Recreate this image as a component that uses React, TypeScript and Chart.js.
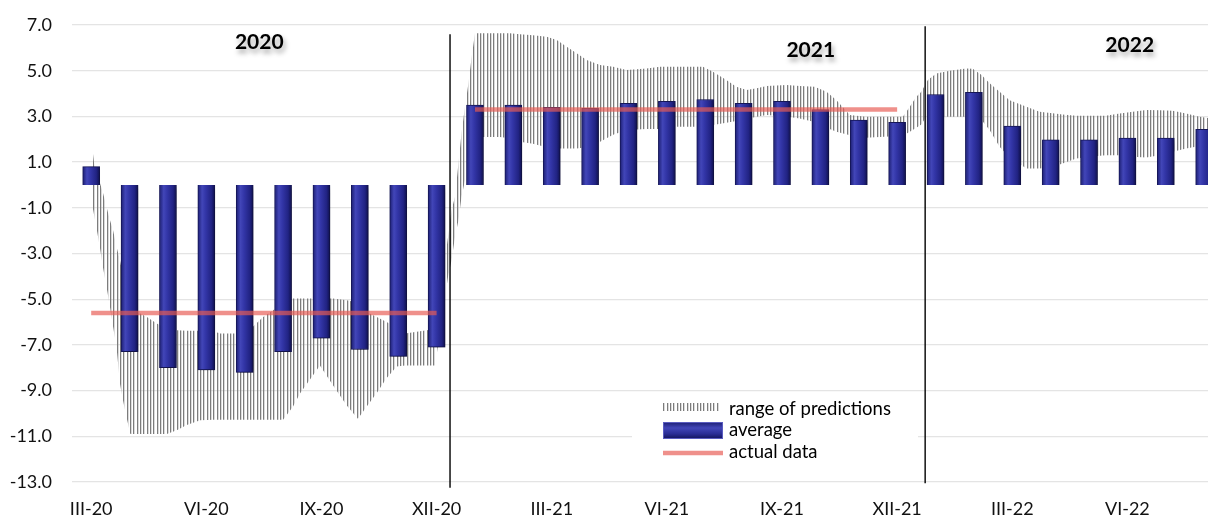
import React, { useEffect, useRef } from 'react';
import { Chart, registerables } from 'chart.js';

Chart.register(...registerables);

// Months from III-20 to VIII-22 (one bar per month)
const monthLabels = [
  'III-20', 'IV-20', 'V-20', 'VI-20', 'VII-20', 'VIII-20', 'IX-20', 'X-20', 'XI-20', 'XII-20',
  'I-21', 'II-21', 'III-21', 'IV-21', 'V-21', 'VI-21', 'VII-21', 'VIII-21', 'IX-21', 'X-21', 'XI-21', 'XII-21',
  'I-22', 'II-22', 'III-22', 'IV-22', 'V-22', 'VI-22', 'VII-22', 'VIII-22',
];

// Average of predictions, per month
const averageValues = [
  0.8, -7.3, -8.0, -8.1, -8.2, -7.3, -6.7, -7.2, -7.5, -7.1,
  3.5, 3.5, 3.4, 3.35, 3.57, 3.66, 3.74, 3.57, 3.66, 3.3, 2.84, 2.74,
  3.96, 4.05, 2.58, 1.97, 1.97, 2.05, 2.05, 2.43,
];

// Range of predictions: position on the month axis, upper and lower bound
const rangeX = [
  0.03, 0.14, 0.23, 0.31, 0.4, 0.49, 0.57, 0.66, 0.75, 0.83, 0.92, 1.02,
  1.45, 1.71, 1.97, 2.23, 2.49, 2.84, 3.18, 3.36, 3.88, 4.22, 4.48, 4.74, 5.0,
  5.26, 5.44, 5.78, 5.96, 6.3, 6.66, 6.95, 7.18, 7.44, 7.7, 7.96, 8.18, 8.57, 8.96,
  9.3, 9.39, 9.48, 9.57, 9.65, 9.74, 9.83, 9.91, 10.0,
  10.65, 10.91, 11.17, 11.51, 11.87, 12.13, 12.39, 12.65, 12.91, 13.26, 13.6, 13.95,
  14.47, 14.82, 15.16, 15.94, 16.2, 16.55, 16.81, 17.08, 17.34, 17.6, 18.12, 18.46,
  18.85, 19.16, 19.42, 19.77, 20.18, 21.15, 21.33, 21.5, 21.63, 21.8,
  22.02, 22.37, 22.8, 22.97, 23.2, 23.41, 23.67, 23.93, 24.37, 24.71, 25.05, 25.31,
  25.67, 26.02, 26.43, 26.8, 27.14, 27.49, 27.84, 28.18, 28.53, 28.88, 29.2,
];
const rangeHigh = [
  1.6, 0.07, 0.07, -0.36, -0.96, -1.54, -1.98, -2.7, -3.3, -4.0, -4.8, -5.4,
  -5.78, -6.06, -6.3, -6.36, -6.38, -6.38, -6.4, -6.5, -6.5, -6.2, -5.78, -5.48, -5.19,
  -4.97, -4.97, -4.97, -4.97, -4.97, -5.05, -5.15, -5.56, -5.78, -6.0, -6.27, -6.5, -6.4, -6.3,
  -2.27, -1.1, -0.52, 0.95, 2.27, 3.42, 4.45, 5.55, 6.64,
  6.64, 6.64, 6.59, 6.55, 6.49, 6.34, 6.05, 5.76, 5.47, 5.25, 5.17, 5.03,
  5.1, 5.17, 5.17, 5.17, 4.95, 4.59, 4.3, 4.15, 4.23, 4.33, 4.37, 4.33,
  4.3, 4.08, 3.71, 3.06, 2.98, 2.98, 3.42, 3.86, 4.08, 4.59,
  4.88, 5.0, 5.1, 5.08, 4.81, 4.45, 4.08, 3.71, 3.42, 3.2, 3.14, 3.08,
  3.03, 3.03, 3.03, 3.13, 3.2, 3.28, 3.27, 3.25, 3.13, 2.98, 2.9,
];
const rangeLow = [
  -0.9, -1.9, -2.77, -3.64, -4.46, -5.34, -6.2, -7.09, -8.7, -9.43, -10.16, -10.9,
  -10.9, -10.9, -10.9, -10.74, -10.5, -10.3, -10.28, -10.28, -10.28, -10.28, -10.28, -10.28, -10.28,
  -9.7, -9.13, -8.33, -7.9, -8.77, -9.65, -10.23, -9.7, -9.1, -8.45, -7.95, -7.9, -7.9, -7.9,
  -4.0, -3.3, -2.27, -1.54, -0.52, 0.21, 1.5, 2.26, 2.1,
  2.1, 2.04, 1.89, 1.8, 1.65, 1.6, 1.6, 1.6, 1.65, 1.89, 2.2, 2.4,
  2.45, 2.45, 2.55, 2.55, 2.62, 2.72, 2.8, 2.9, 2.98, 3.06, 3.0, 2.91,
  2.75, 2.5, 2.33, 2.18, 2.07, 2.15, 2.33, 2.5, 2.65, 3.1,
  3.0, 2.98, 2.98, 3.0, 2.84, 2.4, 1.67, 1.2, 0.72, 0.72, 0.79, 0.94,
  1.16, 1.23, 1.3, 1.3, 1.23, 1.2, 1.3, 1.45, 1.6, 1.7, 1.75,
];

// Actual yearly outcome: [first month index, last month index, value]
const actual2020 = [0, 9, -5.6];
const actual2021 = [10, 21, 3.3];

// Year separators (position on the month axis) and years shown above
const yearSeparators = [9.35, 21.73];
const yearNames = ['2020', '2021', '2022'];

// Y axis ticks
const yMin = -13;
const yMax = 7;
const yStep = 2;

const FONT = 'Lato, "Open Sans", sans-serif';
const ACTUAL_COLOR = 'rgba(232, 92, 84, 0.68)';
const BAR_FALLBACK = '#2a2d92';

function makeHatch(): CanvasPattern | string {
  const tile = document.createElement('canvas');
  tile.width = 10;
  tile.height = 10;
  const t = tile.getContext('2d');
  if (!t) return '#aaa';
  t.fillStyle = '#7c7c7c';
  [0, 3, 7].forEach((x) => t.fillRect(x, 0, 1, 10));
  t.fillStyle = 'rgba(150,150,150,0.35)';
  [1, 4, 8].forEach((x) => t.fillRect(x, 0, 1, 10));
  const p = t.createPattern(tile, 'repeat');
  return p || '#aaa';
}

export default function App() {
  const canvasRef = useRef<HTMLCanvasElement | null>(null);

  useEffect(() => {
    let chart: Chart | null = null;
    let cancelled = false;

    const build = () => {
      if (cancelled || !canvasRef.current) return;
      const hatch = makeHatch();

      const barGradient = (c: any) => {
        const ch = c.chart;
        const xs = ch.scales && ch.scales.x;
        if (!xs || c.type !== 'data') return BAR_FALLBACK;
        const px = xs.getPixelForValue(c.dataIndex);
        if (!Number.isFinite(px)) return BAR_FALLBACK;
        const g = ch.ctx.createLinearGradient(px - 8.5, 0, px + 8.5, 0);
        g.addColorStop(0, '#1c1e72');
        g.addColorStop(0.25, '#4246b8');
        g.addColorStop(0.45, '#3336a8');
        g.addColorStop(0.8, '#212383');
        g.addColorStop(1, '#0f104c');
        return g;
      };

      // soft drop shadow under the bars
      const barShadow = {
        id: 'barShadow',
        beforeDatasetDraw(ch: any, args: any) {
          if (args.meta.type !== 'bar') return;
          const ctx = ch.ctx;
          ctx.save();
          ctx.shadowColor = 'rgba(0,0,0,0.4)';
          ctx.shadowBlur = 7;
          ctx.shadowOffsetX = 3;
          ctx.shadowOffsetY = 2;
        },
        afterDatasetDraw(ch: any, args: any) {
          if (args.meta.type !== 'bar') return;
          ch.ctx.restore();
        },
      };

      // year titles, placed in axis units
      const yearPos = [
        [4.38, 6.23],
        [18.75, 5.9],
        [27.06, 6.12],
      ];
      const yearTitles = {
        id: 'yearTitles',
        afterDatasetsDraw(ch: any) {
          const { ctx, scales } = ch;
          ctx.save();
          ctx.font = `bold 21px ${FONT}`;
          ctx.textAlign = 'center';
          ctx.textBaseline = 'middle';
          ctx.fillStyle = '#000';
          ctx.shadowColor = 'rgba(0,0,0,0.35)';
          ctx.shadowBlur = 5;
          ctx.shadowOffsetX = 2;
          ctx.shadowOffsetY = 4;
          yearNames.forEach((name, i) => {
            ctx.fillText(name, scales.x.getPixelForValue(yearPos[i][0]), scales.y.getPixelForValue(yearPos[i][1]));
          });
          ctx.restore();
        },
      };

      // legend box inside the plot, painted over the grid and under the marks
      const innerLegend = {
        id: 'innerLegend',
        beforeDatasetsDraw(ch: any) {
          const ctx = ch.ctx;
          ctx.save();
          ctx.fillStyle = '#fff';
          ctx.fillRect(632, 396, 286, 68);
          // range swatch
          ctx.fillStyle = hatch;
          ctx.fillRect(663, 403, 57, 8);
          // average swatch
          const g = ctx.createLinearGradient(0, 422, 0, 439);
          g.addColorStop(0, '#1c1e72');
          g.addColorStop(0.35, '#4246b8');
          g.addColorStop(0.7, '#2a2d95');
          g.addColorStop(1, '#121358');
          ctx.fillStyle = g;
          ctx.fillRect(663, 422, 60, 17);
          ctx.strokeStyle = '#5a5cc0';
          ctx.lineWidth = 1;
          ctx.strokeRect(663.5, 422.5, 59, 16);
          // actual data swatch
          ctx.strokeStyle = ACTUAL_COLOR;
          ctx.lineWidth = 4.5;
          ctx.beginPath();
          ctx.moveTo(663, 453);
          ctx.lineTo(723, 453);
          ctx.stroke();
          // labels
          ctx.fillStyle = '#000';
          ctx.font = `18.5px ${FONT}`;
          ctx.textAlign = 'left';
          ctx.textBaseline = 'middle';
          ctx.fillText('range of predictions', 729, 409);
          ctx.fillText('average', 729, 430);
          ctx.fillText('actual data', 729, 452);
          ctx.restore();
        },
      };

      const tickValues = monthLabels.map((_, i) => i).filter((i) => i % 3 === 0);

      chart = new Chart(canvasRef.current, {
        type: 'bar',
        data: {
          datasets: [
            {
              type: 'line',
              label: 'range of predictions',
              data: rangeX.map((x, i) => ({ x, y: rangeHigh[i] })),
              borderWidth: 0,
              pointRadius: 0,
              backgroundColor: hatch as any,
              fill: '+1',
              tension: 0,
              order: 4,
            },
            {
              type: 'line',
              label: 'range low',
              data: rangeX.map((x, i) => ({ x, y: rangeLow[i] })),
              borderWidth: 0,
              pointRadius: 0,
              fill: false,
              tension: 0,
              order: 4,
            },
            {
              type: 'bar',
              label: 'average',
              data: averageValues.map((y, i) => ({ x: i, y })),
              backgroundColor: barGradient as any,
              borderColor: '#17185e',
              borderWidth: 1,
              barThickness: 17,
              order: 3,
            },
            {
              type: 'line',
              label: 'actual data',
              data: [
                { x: actual2020[0], y: actual2020[2] },
                { x: actual2020[1], y: actual2020[2] },
              ],
              borderColor: ACTUAL_COLOR,
              borderWidth: 4.5,
              borderCapStyle: 'butt',
              pointRadius: 0,
              fill: false,
              order: 2,
            },
            {
              type: 'line',
              label: 'actual data 2021',
              data: [
                { x: actual2021[0], y: actual2021[2] },
                { x: actual2021[1], y: actual2021[2] },
              ],
              borderColor: ACTUAL_COLOR,
              borderWidth: 4.5,
              borderCapStyle: 'butt',
              pointRadius: 0,
              fill: false,
              order: 2,
            },
            {
              type: 'line',
              label: 'separator 1',
              data: [
                { x: yearSeparators[0], y: 6.6 },
                { x: yearSeparators[0], y: -13.25 },
              ],
              borderColor: '#000',
              borderWidth: 1.4,
              pointRadius: 0,
              fill: false,
              clip: false as any,
              order: 1,
            },
            {
              type: 'line',
              label: 'separator 2',
              data: [
                { x: yearSeparators[1], y: 6.95 },
                { x: yearSeparators[1], y: -13.05 },
              ],
              borderColor: '#000',
              borderWidth: 1.4,
              pointRadius: 0,
              fill: false,
              clip: false as any,
              order: 1,
            },
          ],
        },
        options: {
          responsive: false,
          animation: false,
          events: [],
          layout: { padding: { left: 0, right: 0, top: 25, bottom: 0 } },
          plugins: {
            legend: { display: false },
            tooltip: { enabled: false },
          },
          scales: {
            x: {
              type: 'linear',
              offset: false,
              min: -0.5,
              max: 29.1,
              grid: { display: false, drawTicks: false, offset: false },
              border: { display: false },
              afterBuildTicks: (scale: any) => {
                scale.ticks = tickValues.map((v) => ({ value: v }));
              },
              afterFit: (scale: any) => {
                scale.height = 34;
              },
              ticks: {
                autoSkip: false,
                maxRotation: 0,
                padding: 16,
                color: '#111',
                font: { family: FONT, size: 18 },
                callback: (v: any) => monthLabels[Number(v)] ?? '',
              },
            },
            y: {
              type: 'linear',
              min: yMin,
              max: yMax,
              grid: { color: '#e4e4e4', lineWidth: 1.3, drawTicks: false },
              border: { display: false },
              afterFit: (scale: any) => {
                scale.width = 72;
                scale.paddingTop = 0;
                scale.paddingBottom = 0;
              },
              ticks: {
                stepSize: yStep,
                padding: 20,
                color: '#111',
                font: { family: FONT, size: 18 },
                callback: (v: any) => Number(v).toFixed(1),
              },
            },
          },
        },
        plugins: [barShadow, yearTitles, innerLegend],
      });
    };

    const fonts = (document as any).fonts;
    if (fonts && fonts.load) {
      Promise.all([fonts.load(`18px Lato`), fonts.load(`bold 21px Lato`)])
        .catch(() => null)
        .then(build);
    } else {
      build();
    }

    return () => {
      cancelled = true;
      if (chart) chart.destroy();
    };
  }, []);

  return (
    <div
      style={{
        position: 'absolute',
        left: 0,
        top: 0,
        width: 1208,
        height: 516,
        overflow: 'hidden',
        background: '#fff',
      }}
    >
      <canvas ref={canvasRef} width={1208} height={516} style={{ display: 'block', width: 1208, height: 516 }} />
    </div>
  );
}
